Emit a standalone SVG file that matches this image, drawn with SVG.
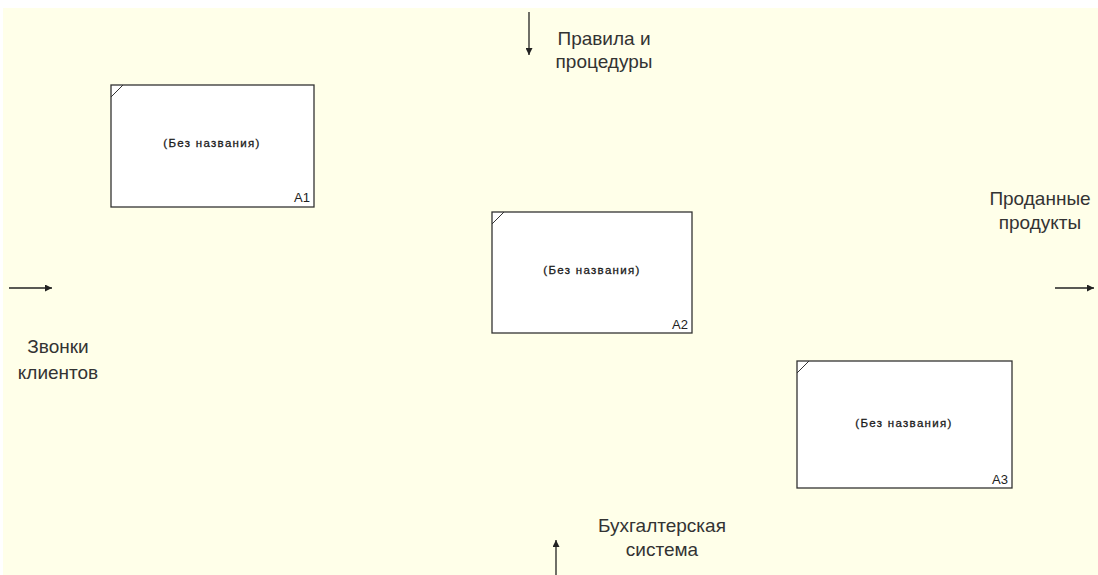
<svg xmlns="http://www.w3.org/2000/svg" width="1098" height="575" viewBox="0 0 1098 575">
<style>
.bg{fill:#FFFFE9}
.box{fill:#FFFFFF;stroke:#333333;stroke-width:1.3}
.corner{stroke:#333333;stroke-width:1;fill:none}
.name{font-family:"Liberation Sans",Arial,sans-serif;font-size:11.5px;letter-spacing:1.3px;fill:#1a1a1a;stroke:#1a1a1a;stroke-width:0.3;text-anchor:middle}
.num{font-family:"Liberation Sans",Arial,sans-serif;font-size:13px;fill:#222222;text-anchor:end}
.lbl{font-family:"Liberation Sans",Arial,sans-serif;font-size:19px;fill:#333333;text-anchor:middle}
.arr{stroke:#222222;stroke-width:1.3;fill:none;marker-end:url(#ah)}
</style>
<defs>
<marker id="ah" viewBox="0 0 10 10" refX="10" refY="5" markerWidth="9" markerHeight="7" markerUnits="userSpaceOnUse" orient="auto">
<path d="M0,0 L10,5 L0,10 z" fill="#222222"/>
</marker>
</defs>
<rect class="bg" x="3" y="8" width="1095" height="567"/>
<g id="A1">
<rect class="box" x="111" y="85" width="203" height="122"/>
<line class="corner" x1="111" y1="97" x2="123" y2="85"/>
<text class="name" x="212" y="147">(Без названия)</text>
<text class="num" x="310" y="202">A1</text>
</g>
<g id="A2">
<rect class="box" x="492" y="212" width="200" height="121"/>
<line class="corner" x1="492" y1="224" x2="504" y2="212"/>
<text class="name" x="592" y="274">(Без названия)</text>
<text class="num" x="688" y="329">A2</text>
</g>
<g id="A3">
<rect class="box" x="797" y="361" width="215" height="127"/>
<line class="corner" x1="797" y1="373" x2="809" y2="361"/>
<text class="name" x="904" y="427">(Без названия)</text>
<text class="num" x="1008" y="484">A3</text>
</g>
<g id="connectors">
<line class="arr" x1="529" y1="12" x2="529" y2="55"/>
<line class="arr" x1="9" y1="288" x2="52" y2="288"/>
<line class="arr" x1="1055" y1="288" x2="1094" y2="288"/>
<line class="arr" x1="556" y1="575" x2="556" y2="540"/>
</g>
<g id="labels">
<text class="lbl" x="604" y="45">Правила и</text>
<text class="lbl" x="604" y="68">процедуры</text>
<text class="lbl" x="58" y="353">Звонки</text>
<text class="lbl" x="58" y="379">клиентов</text>
<text class="lbl" x="1040" y="205">Проданные</text>
<text class="lbl" x="1040" y="229">продукты</text>
<text class="lbl" x="662" y="532">Бухгалтерская</text>
<text class="lbl" x="662" y="556">система</text>
</g>
</svg>
